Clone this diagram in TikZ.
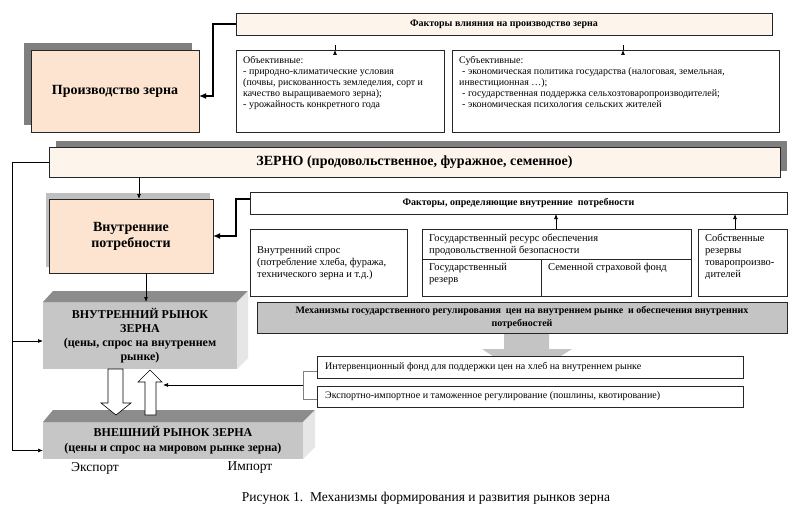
\documentclass[tikz,border=0pt]{standalone}
\usepackage{fontspec}
\setmainfont{Liberation Serif}[BoldFont={Liberation Serif Bold},ItalicFont={Liberation Serif Italic},BoldItalicFont={Liberation Serif Bold Italic}]
\usetikzlibrary{arrows.meta,calc,backgrounds}
\definecolor{peach}{HTML}{FCE4D0}
\definecolor{lightpeach}{HTML}{FDF4EC}
\definecolor{shadowdark}{HTML}{7F7F7F}
\definecolor{shadowlight}{HTML}{BFBFBF}
\definecolor{mechgray}{HTML}{C4C4C4}
\definecolor{frontgray}{HTML}{C6C6C6}
\definecolor{topgray}{HTML}{8C8C8C}
\definecolor{sidegray}{HTML}{E6E6E6}
\definecolor{bracketgray}{HTML}{808080}
\begin{document}
\begin{tikzpicture}[x=1pt,y=-1pt,
  box/.style={draw=black!85, line width=0.7pt, fill=white, inner sep=0pt, outer sep=0pt, anchor=north west},
  txt/.style={align=left, anchor=north west, inner sep=0pt, font=\fontsize{10}{11}\selectfont},
  txtb/.style={align=left, anchor=north west, inner sep=0pt, font=\fontsize{10.5}{12}\selectfont},
  arr/.style={-{Latex[length=5pt,width=4pt]}, line width=0.7pt},
  thickarr/.style={-{Latex[length=7pt,width=6pt]}, line width=1.8pt},
  hollow/.style={draw=black, fill=white, line width=0.6pt},
  front/.style={anchor=north west, fill=frontgray, inner sep=0pt, outer sep=0pt, align=center},
  plain/.style={font=\fontsize{13.5}{16}\selectfont, inner sep=0pt}
]
\useasboundingbox (0,0) rectangle (812,519);

% ---- top block
\node[box, fill=lightpeach, minimum width=536, minimum height=22, font=\bfseries\fontsize{10}{12}\selectfont] (fvl) at (236,13) {Факторы влияния на производство зерна};
\node[box, minimum width=208, minimum height=82] (obj) at (236,50) {};
\node[txt] (objt) at (243,56) {Объективные:\\- природно-климатические условия\\(почвы, рискованность земледелия, сорт и\\качество выращиваемого зерна);\\- урожайность конкретного года};
\node[box, minimum width=327, minimum height=82] (subj) at (452,50) {};
\node[txt] (subjt) at (459,56) {Субъективные:\\\hspace*{3pt}- экономическая политика государства (налоговая, земельная,\\инвестиционная …);\\\hspace*{3pt}- государственная поддержка сельхозтоваропроизводителей;\\\hspace*{3pt}- экономическая психология сельских жителей};

\node[box, fill=peach, minimum width=168, minimum height=82, font=\bfseries\fontsize{14}{16}\selectfont] (prod) at (31,50) {Производство зерна};

\node[box, fill=lightpeach, minimum width=731, minimum height=30, font=\bfseries\fontsize{14}{16}\selectfont] (zerno) at (49,147) {ЗЕРНО (продовольственное, фуражное, семенное)};

\node[box, fill=peach, minimum width=164, minimum height=74, align=center, font=\bfseries\fontsize{14}{16}\selectfont] (vp) at (49,199) {Внутренние\\потребности};

% ---- factors of internal needs
\node[box, minimum width=537, minimum height=22, font=\bfseries\fontsize{10}{12}\selectfont] (fo) at (250,192) {Факторы, определяющие внутренние\ \ потребности};
\node[box, minimum width=157, minimum height=67] (vs) at (250,229) {};
\node[txtb] (vst) at (257,246) {Внутренний спрос\\(потребление хлеба, фуража,\\технического зерна и т.д.)};
\node[box, minimum width=269, minimum height=67] (gr) at (422,229) {};
\draw[line width=0.7pt, draw=black!85] ($(gr.north west)+(0,30)$) -- ($(gr.north east)+(0,30)$);
\draw[line width=0.7pt, draw=black!85] ($(gr.north west)+(119,30)$) -- ($(gr.south west)+(119,0)$);
\node[txtb] (grt) at (429,234) {Государственный ресурс обеспечения\\продовольственной безопасности};
\node[txtb] (grr) at (429,263) {Государственный\\резерв};
\node[txtb] (grs) at (548,263) {Семенной страховой фонд};
\node[box, minimum width=89, minimum height=67] (sr) at (698,229) {};
\node[txtb] (srt) at (705,234) {Собственные\\резервы\\товаропроизво-\\дителей};

\node[box, fill=mechgray, minimum width=530, minimum height=31, align=center, font=\bfseries\fontsize{10}{12.5}\selectfont] (mech) at (257,302) {Механизмы государственного регулирования\ \ цен на внутреннем рынке\ \ и обеспечения внутренних\\потребностей};

\node[box, minimum width=426, minimum height=22] (iv) at (317,356) {};
\node[anchor=west, inner sep=0pt, font=\fontsize{10}{12}\selectfont] (ivt) at ($(iv.west)+(8,0)$) {Интервенционный фонд для поддержки цен на хлеб на внутреннем рынке};
\node[box, minimum width=426, minimum height=21] (ex) at (317,386) {};
\node[anchor=west, inner sep=0pt, font=\fontsize{10}{12}\selectfont] (ext) at ($(ex.west)+(8,0)$) {Экспортно-импортное и таможенное регулирование (пошлины, квотирование)};

% ---- 3D market boxes
\node[front, minimum width=194, minimum height=67, font=\bfseries\fontsize{12}{14.2}\selectfont] (im) at (43,302) {ВНУТРЕННИЙ РЫНОК\\ЗЕРНА\\(цены, спрос на внутреннем\\рынке)};
\fill[topgray] (im.north west) -- ++(10,-11) -- ($(im.north east)+(11,-11)$) -- (im.north east) -- cycle;
\fill[sidegray] (im.north east) -- ++(11,-11) -- ($(im.south east)+(11,-11)$) -- (im.south east) -- cycle;

\node[front, minimum width=260, minimum height=37, font=\bfseries\fontsize{12}{15}\selectfont] (em) at (43,422) {ВНЕШНИЙ РЫНОК ЗЕРНА\\(цены и спрос на мировом рынке зерна)};
\fill[topgray] (em.north west) -- ++(10,-12) -- ($(em.north east)+(12,-12)$) -- (em.north east) -- cycle;
\fill[sidegray] (em.north east) -- ++(12,-12) -- ($(em.south east)+(12,-12)$) -- (em.south east) -- cycle;

% hollow block arrows between markets
\draw[hollow] (108,369) -- (123,369) -- (123,403) -- (131,403) -- (116,415) -- (101,403) -- (108,403) -- cycle;
\draw[hollow] (145,415) -- (145,382) -- (138,382) -- (150,370) -- (162,382) -- (156,382) -- (156,415) -- cycle;

\node[plain] (exl) at (95,468) {Экспорт};
\node[plain] (iml) at (250,468) {Импорт};
\node[plain] (cap) at (426,498) {Рисунок 1.\ \ Механизмы формирования и развития рынков зерна};

% ---- connectors
\draw[arr] ($(obj.north west)+(99,0)$) -- ($(obj.north west)+(99,0)$ |- fvl.south);
\draw[arr] ($(subj.north west)+(171,0)$) -- ($(subj.north west)+(171,0)$ |- fvl.south);
\draw[thickarr] (fvl.west) -- ++(-23,0) |- ($(prod.east)+(0,5)$);

\coordinate (a1) at ($(vp.north west)+(90,0)$);
\draw[arr] (a1 |- zerno.south) -- (a1);
\draw[thickarr] ($(fo.west)+(0,-4)$) -- ++(-14,0) |- (vp.east);
\coordinate (a2) at ($(im.north west)+(103,0)$);
\draw[arr] (a2 |- vp.south) -- (a2);

\coordinate (a3) at ($(gr.north west)+(134,0)$);
\draw[arr] (a3) -- (a3 |- fo.south);
\coordinate (a4) at ($(sr.north west)+(37,0)$);
\draw[arr] (a4) -- (a4 |- fo.south);

\coordinate (lx) at ($(zerno.west)+(-37,0)$);
\coordinate (imw) at ($(im.west)+(0,5.5)$);
\coordinate (emw) at ($(em.west)+(0,10)$);
\draw[arr] (zerno.west) -- (lx) |- (emw);
\draw[arr] (lx |- imw) -- (imw);

\draw[line width=0.7pt, draw=bracketgray] ($(iv.west)+(0,4)$) -- ++(-14,0) |- ($(ex.west)+(0,3)$);
\coordinate (bm) at ($(iv.west)+(-14,18)$);
\coordinate (ua) at (163,385);
\draw[arr] (bm) -- (ua |- bm);

\begin{scope}[on background layer]
\fill[white] (0,0) rectangle (812,519);
\fill[shadowdark] ($(prod.north west)+(-7,-7)$) rectangle ($(prod.south east)+(-7,-7)$);
\fill[shadowdark] ($(zerno.north west)+(7,-6)$) rectangle ($(zerno.south east)+(7,-6)$);
\fill[shadowlight] ($(vp.north west)+(-3,-6)$) rectangle ($(vp.south east)+(-3,-6)$);
\fill[mechgray] (504,333) -- (549,333) -- (549,349) -- (572,349) -- (526.5,378) -- (482,349) -- (504,349) -- cycle;
\end{scope}
\end{tikzpicture}
\end{document}
